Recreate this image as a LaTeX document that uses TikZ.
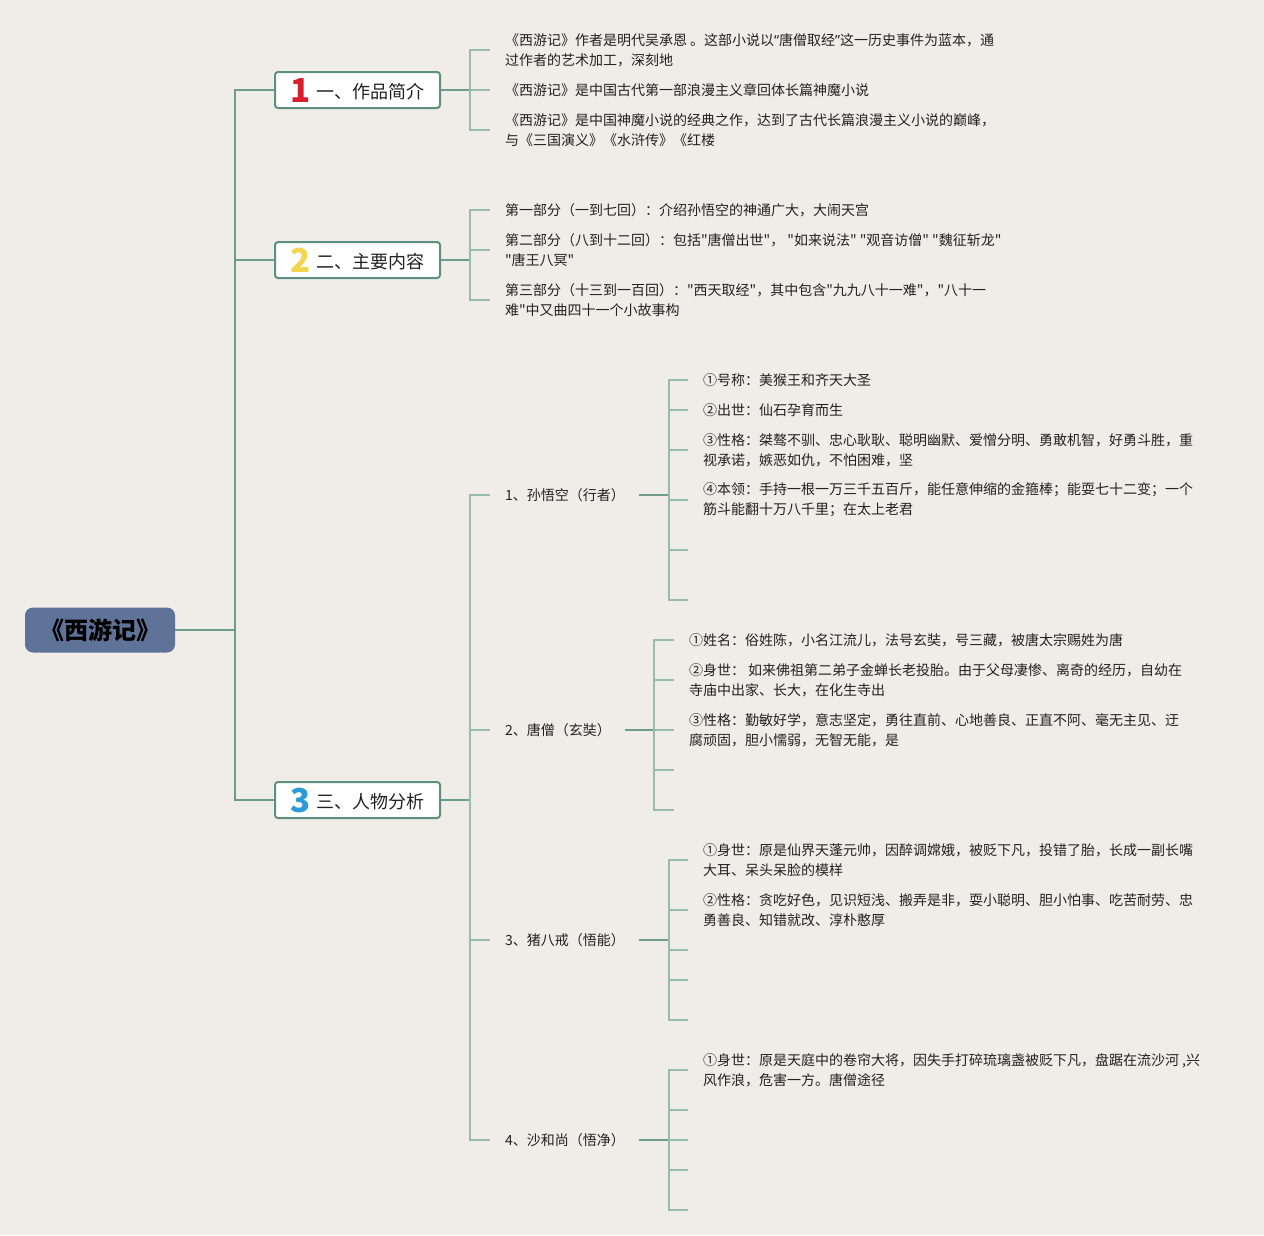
\documentclass[tikz,border=0pt]{standalone}
\usepackage{fontspec}
\setmainfont{Noto Sans CJK SC}[Ligatures=TeXOff]
\newfontfamily\latinfont{Noto Sans}[Ligatures=TeXOff]
\definecolor{bg}{HTML}{F0ECE7}
\definecolor{mainline}{HTML}{6C9C8C}
\definecolor{subline}{HTML}{98BBAF}
\definecolor{boxline}{HTML}{5E9080}
\definecolor{rootfill}{HTML}{5F7399}
\definecolor{txt}{HTML}{222222}
\definecolor{nred}{HTML}{D81E2C}
\definecolor{nyel}{HTML}{F2D54A}
\definecolor{nblue}{HTML}{2B9AD9}
\tikzset{
  rootbox/.style={fill=rootfill, rounded corners=8pt, minimum width=150pt, minimum height=45pt, inner sep=0pt,
    font=\fontsize{24}{28}\selectfont\bfseries, text=black},
  topic/.style={draw=boxline, line width=2pt, fill=white, rounded corners=3pt, minimum width=165pt, minimum height=36pt, inner sep=0pt,
    text height=17pt, text depth=1pt, font=\fontsize{18}{22}\selectfont, text=txt},
  leaf/.style={anchor=west, align=left, inner xsep=15pt, inner ysep=2pt, outer sep=0pt,
    font=\fontsize{14}{20}\selectfont, text=txt},
  mainconn/.style={draw=mainline, line width=2pt},
  brk/.style={draw=subline, line width=1.8pt},
}
\newcommand{\bignum}[2]{\raisebox{-4pt}{\smash{\color{#1}\fontsize{33}{33}\selectfont\bfseries #2}}\hspace{6pt}}
\newcommand{\myLq}{{\latinfont “}}
\newcommand{\myRq}{{\latinfont ”}}
\begin{document}
\begin{tikzpicture}[x=1pt,y=-1pt]
\path[fill=bg] (0,0) rectangle (1264,1235);
\useasboundingbox (0,0) rectangle (1264,1235);

% root and topics
\node[rootbox] (root) at (100,630) {《西游记》};
\node[topic] (t1) at (357.5,90) {\bignum{nred}{1}一、作品简介};
\node[topic] (t2) at (357.5,260) {\bignum{nyel}{2}二、主要内容};
\node[topic] (t3) at (357.5,800) {\bignum{nblue}{3}三、人物分析};

\coordinate (trunk) at (235,630);
\draw[mainconn] (root.east) -- (trunk);
\draw[mainconn] (t1.west) -| (trunk) |- (t3.west);
\draw[mainconn] (trunk|-t2.west) -- (t2.west);

% branch 1
\node[leaf] (l11) at (490,50) {《西游记》作者是明代吴承恩 。这部小说以\myLq 唐僧取经\myRq 这一历史事件为蓝本，通\\过作者的艺术加工，深刻地};
\node[leaf] (l12) at (490,90) {《西游记》是中国古代第一部浪漫主义章回体长篇神魔小说};
\node[leaf] (l13) at (490,130) {《西游记》是中国神魔小说的经典之作，达到了古代长篇浪漫主义小说的巅峰，\\与《三国演义》《水浒传》《红楼};
\coordinate (k1) at (470,90);
\draw[mainconn] (t1.east) -- (k1);
\draw[brk] (l11.west) -| (k1) |- (l13.west);
\draw[brk] (k1) -- (l12.west);

% branch 2
\node[leaf] (l21) at (490,210) {第一部分（一到七回）：介绍孙悟空的神通广大，大闹天宫};
\node[leaf] (l22) at (490,250) {第二部分（八到十二回）：包括"唐僧出世"， "如来说法" "观音访僧" "魏征斩龙"\\"唐王八冥"};
\node[leaf] (l23) at (490,300) {第三部分（十三到一百回）："西天取经"，其中包含"九九八十一难"，"八十一\\难"中又曲四十一个小故事构};
\coordinate (k2) at (470,260);
\draw[mainconn] (t2.east) -- (k2);
\draw[brk] (l21.west) -| (k2) |- (l23.west);
\draw[brk] (k2|-l22.west) -- (l22.west);

% branch 3
\node[leaf, text width=119pt] (s1) at (490,495) {1、孙悟空（行者）};
\node[leaf, text width=105pt] (s2) at (490,730) {2、唐僧（玄奘）};
\node[leaf, text width=119pt] (s3) at (490,940) {3、猪八戒（悟能）};
\node[leaf, text width=119pt] (s4) at (490,1140) {4、沙和尚（悟净）};
\coordinate (k3) at (470,800);
\draw[mainconn] (t3.east) -- (k3);
\draw[brk] (s1.west) -| (k3) |- (s4.west);
\draw[brk] (k3|-s2.west) -- (s2.west);
\draw[brk] (k3|-s3.west) -- (s3.west);

% sun wukong
\node[leaf] (a11) at (688,380) {①号称：美猴王和齐天大圣};
\node[leaf] (a12) at (688,410) {②出世：仙石孕育而生};
\node[leaf] (a13) at (688,450) {③性格：桀骜不驯、忠心耿耿、聪明幽默、爱憎分明、勇敢机智，好勇斗胜，重\\视承诺，嫉恶如仇，不怕困难，坚};
\node[leaf] (a14) at (688,500) {④本领：手持一根一万三千五百斤，能任意伸缩的金箍棒；能耍七十二变；一个\\筋斗能翻十万八千里；在太上老君};
\coordinate (a15) at (688,550);
\coordinate (a16) at (688,600);
\coordinate (j1) at (669,495);
\draw[mainconn] (s1.east) -- (j1);
\draw[brk] (a11.west) -| (j1) |- (a16);
\draw[brk] (j1|-a12.west) -- (a12.west);
\draw[brk] (j1|-a13.west) -- (a13.west);
\draw[brk] (j1|-a14.west) -- (a14.west);
\draw[brk] (j1|-a15) -- (a15);

% tang seng
\node[leaf] (b21) at (674,640) {①姓名：俗姓陈，小名江流儿，法号玄奘，号三藏，被唐太宗赐姓为唐};
\node[leaf] (b22) at (674,680) {②身世： 如来佛祖第二弟子金蝉长老投胎。由于父母凄惨、离奇的经历，自幼在\\寺庙中出家、长大，在化生寺出};
\node[leaf] (b23) at (674,730) {③性格：勤敏好学，意志坚定，勇往直前、心地善良、正直不阿、毫无主见、迂\\腐顽固，胆小懦弱，无智无能，是};
\coordinate (b24) at (674,770);
\coordinate (b25) at (674,810);
\coordinate (j2) at (654,730);
\draw[mainconn] (s2.east) -- (j2);
\draw[brk] (b21.west) -| (j2) |- (b25);
\draw[brk] (j2|-b22.west) -- (b22.west);
\draw[brk] (j2) -- (b23.west);
\draw[brk] (j2|-b24) -- (b24);

% zhu bajie
\node[leaf] (c31) at (688,860) {①身世：原是仙界天蓬元帅，因醉调嫦娥，被贬下凡，投错了胎，长成一副长嘴\\大耳、呆头呆脸的模样};
\node[leaf] (c32) at (688,910) {②性格：贪吃好色，见识短浅、搬弄是非，耍小聪明、胆小怕事、吃苦耐劳、忠\\勇善良、知错就改、淳朴憨厚};
\coordinate (c33) at (688,950);
\coordinate (c34) at (688,980);
\coordinate (c35) at (688,1020);
\coordinate (j3) at (669,940);
\draw[mainconn] (s3.east) -- (j3);
\draw[brk] (c31.west) -| (j3) |- (c35);
\draw[brk] (j3|-c32.west) -- (c32.west);
\draw[brk] (j3|-c33) -- (c33);
\draw[brk] (j3|-c34) -- (c34);

% sha heshang
\node[leaf] (d41) at (688,1070) {①身世：原是天庭中的卷帘大将，因失手打碎琉璃盏被贬下凡，盘踞在流沙河 ,兴\\风作浪，危害一方。唐僧途径};
\coordinate (d42) at (688,1110);
\coordinate (d43) at (688,1140);
\coordinate (d44) at (688,1170);
\coordinate (d45) at (688,1210);
\coordinate (j4) at (669,1140);
\draw[mainconn] (s4.east) -- (j4);
\draw[brk] (d41.west) -| (j4) |- (d45);
\draw[brk] (j4|-d42) -- (d42);
\draw[brk] (j4) -- (d43);
\draw[brk] (j4|-d44) -- (d44);
\end{tikzpicture}
\end{document}
